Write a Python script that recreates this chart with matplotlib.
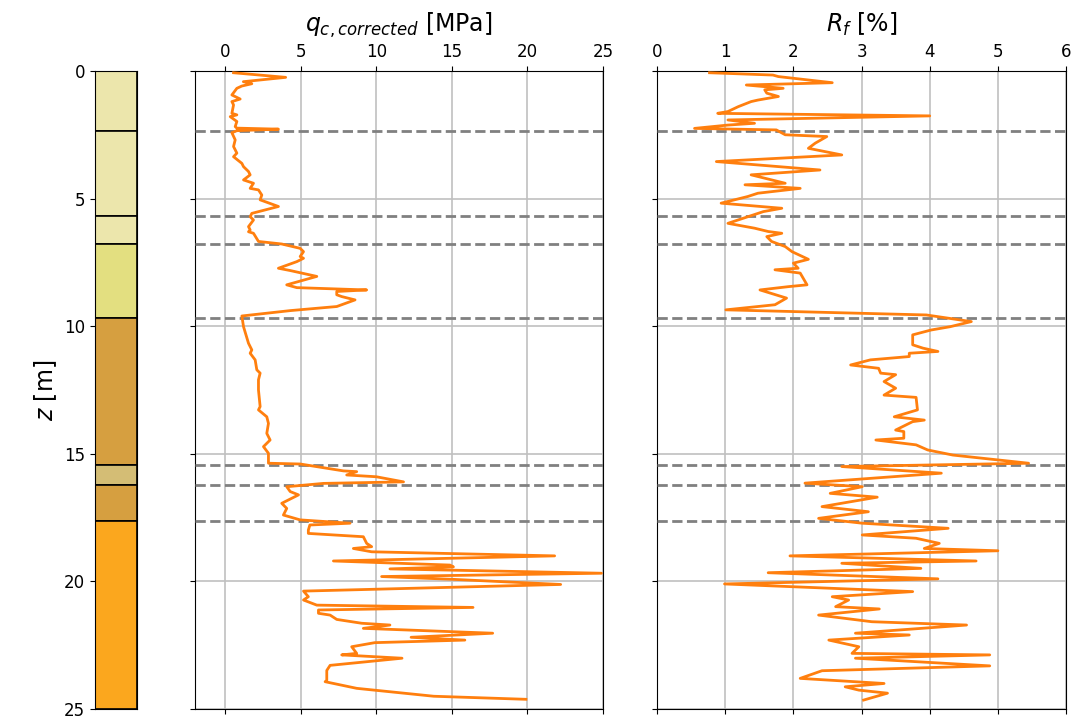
import matplotlib
matplotlib.use('Agg')
import matplotlib.pyplot as plt

# soil layers (top, bottom depth in m) and colours
layer_top = [0.0, 2.35, 5.68, 6.78, 9.68, 15.44, 16.22, 17.63]
layer_bot = [2.35, 5.68, 6.78, 9.68, 15.44, 16.22, 17.63, 25.0]
layer_colors = ['#ece6ac', '#ece6ac', '#ece6ac', '#e3df80',
                '#d69f40', '#d4bd75', '#d69f40', '#fba71e']

# cone resistance profile
qc_z = [0.07, 0.25, 0.42, 0.5, 0.59, 0.68, 0.94, 1.1, 1.2, 1.33, 1.66, 1.72, 1.79,
        1.98, 2.18, 2.24, 2.28, 2.34, 2.42, 2.7, 2.96, 3.22, 3.36, 3.62, 3.75,
        3.94, 4.07, 4.27, 4.4, 4.6, 4.66, 4.86, 5.05, 5.31, 5.58, 5.71, 5.84,
        6.1, 6.23, 6.3, 6.36, 6.68, 6.78, 6.95, 7.08, 7.27, 7.34, 7.47, 7.73,
        7.82, 8.05, 8.38, 8.49, 8.58, 8.64, 8.77, 8.84, 8.97, 9.23, 9.39, 9.6,
        10.02, 10.67, 10.93, 11.06, 11.32, 11.71, 11.84, 12.1, 12.5, 13.15,
        13.28, 13.55, 13.81, 14.2, 14.46, 14.72, 14.98, 15.37, 15.4, 15.67,
        15.7, 15.83, 15.9, 16.1, 16.16, 16.29, 16.48, 16.61, 16.94, 17.14,
        17.4, 17.59, 17.72, 17.79, 17.99, 18.12, 18.25, 18.51, 18.64, 18.71,
        18.84, 19.0, 19.2, 19.36, 19.43, 19.51, 19.68, 19.81, 19.92, 20.12,
        20.38, 20.6, 20.73, 20.93, 21.02, 21.12, 21.25, 21.32, 21.49, 21.64,
        21.71, 21.84, 22.03, 22.19, 22.3, 22.4, 22.56, 22.82, 22.88, 23.01,
        23.29, 23.49, 23.88, 23.93, 24.19, 24.5, 24.62]
qc = [0.55, 4.0, 1.2, 1.76, 1.1, 0.77, 0.44, 0.99, 0.44, 0.55, 0.44, 0.77, 0.33,
      0.77, 0.66, 0.77, 3.52, 0.77, 0.44, 0.66, 0.55, 0.77, 0.55, 1.1, 1.21,
      1.54, 1.65, 1.21, 1.87, 1.65, 2.2, 2.42, 2.31, 3.52, 1.76, 1.65, 1.87,
      1.54, 1.65, 1.54, 1.87, 2.2, 3.74, 4.96, 5.18, 4.96, 5.18, 4.74, 3.52,
      4.3, 6.06, 4.07, 4.74, 9.36, 7.38, 7.38, 7.71, 8.59, 7.38, 4.3, 1.1,
      1.21, 1.54, 1.76, 1.65, 1.98, 2.09, 2.31, 2.2, 2.2, 2.31, 2.2, 2.75,
      2.86, 2.75, 2.97, 2.53, 2.86, 2.86, 4.96, 7.82, 8.7, 8.04, 10.0, 11.8,
      6.5, 4.07, 4.3, 4.85, 3.74, 4.07, 3.85, 4.96, 8.26, 5.6, 5.5, 5.5,
      9.14, 9.36, 9.69, 8.48, 9.69, 21.8, 7.16, 14.87, 15.1, 10.9, 24.9,
      10.35, 15.1, 22.2, 5.18, 5.5, 5.18, 6.06, 16.4, 6.17, 6.17, 6.94, 7.38,
      9.03, 10.9, 9.14, 17.7, 12.3, 15.86, 9.9, 8.37, 8.7, 7.71, 11.7, 6.94,
      6.72, 6.72, 6.61, 8.7, 13.8, 19.9]

# friction ratio profile
rf_z = [0.07, 0.16, 0.22, 0.46, 0.55, 0.68, 0.74, 0.87, 1.0, 1.14, 1.2, 1.4,
        1.59, 1.66, 1.76, 1.92, 2.05, 2.12, 2.25, 2.31, 2.5, 2.57, 2.83, 3.03,
        3.29, 3.55, 3.88, 4.07, 4.4, 4.46, 4.6, 4.79, 4.92, 5.18, 5.38, 5.51,
        5.97, 6.16, 6.29, 6.36, 6.49, 6.68, 6.88, 7.08, 7.38, 7.53, 7.73, 7.79,
        7.92, 8.38, 8.45, 8.58, 8.9, 9.16, 9.36, 9.56, 9.82, 10.02, 10.15,
        10.34, 10.73, 10.86, 10.99, 11.06, 11.19, 11.32, 11.52, 11.65, 11.84,
        11.9, 12.17, 12.43, 12.7, 12.79, 13.28, 13.55, 13.68, 13.74, 14.07,
        14.13, 14.39, 14.46, 14.65, 14.85, 15.05, 15.37, 15.5, 15.76, 16.15,
        16.29, 16.55, 16.7, 17.07, 17.27, 17.53, 17.72, 17.92, 18.18, 18.31,
        18.51, 18.71, 18.8, 19.0, 19.2, 19.29, 19.49, 19.66, 19.9, 20.1, 20.4,
        20.6, 20.73, 20.99, 21.08, 21.32, 21.58, 21.71, 22.03, 22.1, 22.3,
        22.56, 22.82, 22.88, 23.01, 23.31, 23.5, 23.8, 24.0, 24.13, 24.26,
        24.38, 24.65]
rf = [0.77, 1.7, 1.78, 2.57, 1.31, 1.85, 1.58, 1.61, 1.78, 1.48, 1.38, 1.19,
      1.04, 0.89, 4.0, 1.04, 1.43, 1.04, 0.55, 1.75, 1.88, 2.49, 2.32, 2.22,
      2.71, 0.87, 2.39, 1.38, 1.88, 1.29, 2.1, 1.48, 1.33, 0.94, 1.83, 1.56,
      1.04, 1.43, 1.63, 1.83, 1.61, 1.68, 1.88, 1.98, 2.22, 2.0, 2.07, 1.73,
      2.1, 2.2, 1.93, 1.51, 1.9, 1.73, 1.01, 3.95, 4.61, 4.3, 4.02, 3.75,
      3.75, 3.9, 4.12, 3.7, 3.7, 3.13, 2.84, 3.25, 3.28, 3.5, 3.33, 3.5, 3.33,
      3.8, 3.82, 3.48, 3.92, 3.75, 3.5, 3.62, 3.62, 3.21, 3.8, 3.97, 4.34,
      5.45, 2.71, 4.17, 2.17, 3.01, 2.54, 3.23, 2.42, 3.1, 2.37, 3.01, 4.27,
      3.01, 3.8, 4.14, 3.92, 5.0, 1.95, 4.68, 2.71, 3.87, 1.63, 4.12, 0.99,
      3.75, 2.57, 2.81, 2.62, 3.26, 2.37, 3.15, 4.54, 2.91, 3.7, 2.52, 2.96,
      2.86, 4.88, 2.91, 4.88, 2.42, 2.1, 3.33, 2.76, 2.96, 3.38, 3.03]

fig = plt.figure(figsize=(10.81, 7.19), dpi=100)
ax0 = fig.add_axes([0.0879, 0.0139, 0.0389, 0.8874])
ax1 = fig.add_axes([0.1804, 0.0139, 0.3774, 0.8874])
ax2 = fig.add_axes([0.6078, 0.0139, 0.3784, 0.8874])

# soil column
for top, bot, col in zip(layer_top, layer_bot, layer_colors):
    ax0.bar(0.5, bot - top, bottom=top, width=1.0, color=col,
            edgecolor='black', linewidth=1.2)
ax0.set_xlim(0, 1)
ax0.set_ylim(25, 0)
ax0.set_xticks([])
ax0.set_yticks([0, 5, 10, 15, 20, 25])
ax0.tick_params(axis='y', labelsize=12)
ax0.set_ylabel('$z$ [m]', fontsize=17)

boundaries = layer_bot[:-1]

def style_profile(ax, xlim, xticks, label):
    ax.set_ylim(25, 0)
    ax.set_xlim(*xlim)
    ax.set_xticks(xticks)
    ax.set_yticks([0, 5, 10, 15, 20, 25])
    ax.set_yticklabels([])
    ax.xaxis.set_ticks_position('both')
    ax.xaxis.set_label_position('top')
    ax.tick_params(axis='x', labeltop=True, labelbottom=False, labelsize=12)
    ax.grid(True, color='#c0c0c0', linewidth=1.2)
    ax.set_axisbelow(True)
    ax.set_xlabel(label, fontsize=17, labelpad=8)
    for b in boundaries:
        ax.axhline(b, color='gray', linestyle='--', linewidth=2, zorder=3)

ax1.plot(qc, qc_z, color='#ff7f0e', linewidth=2, zorder=4)
style_profile(ax1, (-2, 25), [0, 5, 10, 15, 20, 25], r'$q_{c,corrected}$ [MPa]')

ax2.plot(rf, rf_z, color='#ff7f0e', linewidth=2, zorder=4)
style_profile(ax2, (0, 6), [0, 1, 2, 3, 4, 5, 6], r'$R_f$ [%]')

fig.savefig('out.png', dpi=100)
